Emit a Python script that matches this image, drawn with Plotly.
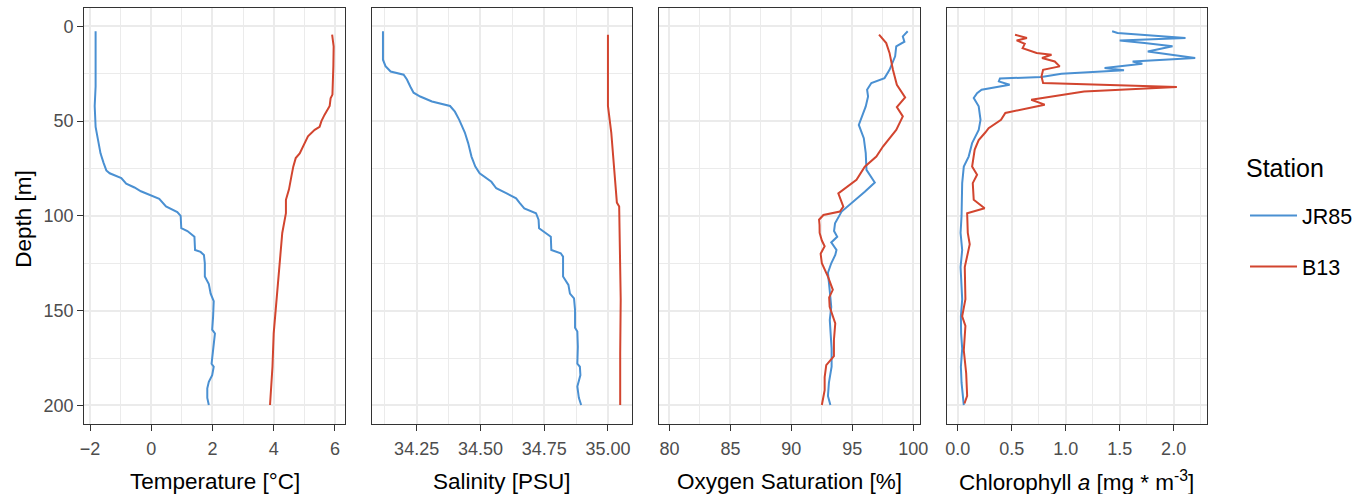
import plotly.graph_objects as go

# ---------------- data ----------------
stations = ["JR85", "B13"]
station_colors = {"JR85": "#4A90D2", "B13": "#D2452F"}

temp_jr85_depth = [2.6, 31.7, 42, 53, 60, 67, 72, 76, 77.5, 80, 83, 85, 87, 89, 91, 95, 98, 100,
                   106.5, 108, 111, 118, 119, 120.6, 125, 132, 136, 141, 145, 153, 160, 162, 167,
                   172.5, 178, 179.6, 184, 187.5, 191, 196, 199.8]
temp_jr85 = [-1.82, -1.82, -1.85, -1.82, -1.74, -1.66, -1.56, -1.47, -1.36, -0.98, -0.82, -0.55,
             -0.34, -0.01, 0.26, 0.48, 0.85, 0.96, 0.98, 1.18, 1.41, 1.43, 1.61, 1.72, 1.75, 1.75,
             1.88, 1.94, 2.04, 2.02, 1.99, 2.08, 2.04, 1.99, 1.97, 2.04, 1.99, 1.88, 1.83, 1.83, 1.88]

temp_b13_depth = [4.4, 10.6, 21, 36, 38, 42, 46.7, 50, 53, 54.6, 58, 61.6, 67, 69.5, 74, 79, 86,
                  91.5, 98.6, 109, 127, 144, 162, 179.6, 199.8]
temp_b13 = [5.91, 5.96, 5.95, 5.92, 5.86, 5.83, 5.66, 5.56, 5.50, 5.34, 5.12, 5.02, 4.85, 4.72,
            4.64, 4.58, 4.50, 4.40, 4.40, 4.28, 4.18, 4.08, 4.00, 3.96, 3.88]

sal_jr85_depth = [2.6, 17.6, 21, 23.8, 25.5, 28, 31.7, 35, 37, 39.6, 42, 45, 49.3, 56, 61.6, 68.7,
                  74, 77.5, 82, 85.4, 88, 90.7, 93, 96, 98.6, 102, 106.5, 111, 118, 119.7, 121.5,
                  132, 136.4, 141, 143.5, 149.6, 159, 161, 169, 178, 179.6, 184, 190, 196, 199.8]
sal_jr85 = [34.118, 34.118, 34.128, 34.148, 34.199, 34.212, 34.225, 34.238, 34.264, 34.31, 34.381,
            34.40, 34.417, 34.439, 34.452, 34.465, 34.48, 34.497, 34.543, 34.562, 34.601, 34.64,
            34.653, 34.672, 34.718, 34.728, 34.73, 34.776, 34.778, 34.815, 34.824, 34.824, 34.845,
            34.851, 34.867, 34.871, 34.871, 34.88, 34.882, 34.88, 34.89, 34.892, 34.88, 34.886, 34.895]

sal_b13_depth = [4.4, 21, 42, 56, 74, 84.5, 93, 95, 118, 144, 172.5, 199.8]
sal_b13 = [35.0, 35.0, 35.0, 35.013, 35.025, 35.032, 35.035, 35.044, 35.048, 35.05, 35.048, 35.048]

oxy_jr85_depth = [2.6, 5.3, 8.1, 10.5, 15.8, 22.9, 27.3, 29.9, 33.4, 37, 42.2, 47, 52, 59, 66.9,
                  75.7, 82.4, 87.2, 92.4, 97.7, 103.9, 108, 111, 114, 118, 120.6, 125, 130, 139,
                  148, 155, 162, 170, 179.6, 188, 195, 199.8]
oxy_jr85 = [99.54, 99.14, 99.27, 98.6, 98.51, 98.05, 97.64, 96.56, 96.21, 96.29, 96.1, 95.8, 95.53,
            95.94, 96.1, 96.16, 96.84, 96.02, 95.07, 94.12, 93.58, 93.5, 93.76, 93.27, 93.7, 93.6,
            93.27, 93.0, 93.14, 93.27, 93.15, 93.2, 93.3, 93.3, 93.08, 93.0, 93.2]

oxy_b13_depth = [4.4, 8.8, 14, 22.9, 30.8, 37.5, 42.6, 47.5, 54.6, 58.1, 63.4, 68.7, 74, 81, 88.1,
                 95.1, 97.7, 99.5, 102, 104.8, 109, 113, 116, 120, 125, 132, 139, 143, 148, 156.7,
                 165.5, 174, 178.7, 185, 192, 199.8]
oxy_b13 = [97.19, 97.78, 98.05, 98.33, 98.65, 99.33, 98.65, 99.14, 98.6, 98.19, 97.51, 96.97,
           96.02, 95.34, 93.85, 94.26, 93.98, 92.63, 92.27, 92.31, 92.32, 92.5, 92.73, 92.4, 92.5,
           93.0, 93.4, 93.1, 93.14, 93.6, 93.49, 93.49, 92.86, 92.73, 92.73, 92.5]

chl_jr85_depth = [2.6, 3.5, 6.1, 7.4, 8.8, 10.5, 13.2, 16.7, 18.5, 19.7, 22, 23.2, 25, 26.7, 27.5,
                  29, 30.8, 33.4, 35.2, 37.8, 42.2, 49.3, 54.6, 61.6, 68.7, 74, 82.7, 91.5, 100,
                  109, 118, 127, 135, 144, 153, 162, 170, 179.6, 188, 195, 199.8]
chl_jr85 = [1.43, 1.48, 2.11, 1.50, 1.73, 1.99, 1.76, 2.2, 1.62, 1.71, 1.36, 1.54, 0.96, 0.775,
            0.39, 0.38, 0.48, 0.22, 0.178, 0.147, 0.193, 0.21, 0.193, 0.132, 0.1, 0.055, 0.04,
            0.04, 0.034, 0.025, 0.04, 0.025, 0.035, 0.04, 0.028, 0.03, 0.04, 0.028, 0.034, 0.045, 0.055]

chl_b13_depth = [4.4, 6.1, 7.4, 9.2, 11.5, 14, 15, 16.7, 18.5, 21.1, 22.9, 26.4, 29.9, 32, 34.3,
                 38.7, 41.3, 45.7, 49.3, 53.7, 56, 60, 65, 74, 78.3, 82.7, 91.5, 96, 98.6, 109,
                 115, 127, 144, 153, 158, 171, 183, 195, 199]
chl_b13 = [0.53, 0.64, 0.545, 0.62, 0.6, 0.73, 0.868, 0.78, 0.898, 0.944, 0.79, 0.775, 0.79, 2.03,
           1.17, 0.68, 0.805, 0.44, 0.4, 0.285, 0.254, 0.193, 0.156, 0.132, 0.178, 0.138, 0.147,
           0.248, 0.086, 0.092, 0.11, 0.064, 0.07, 0.04, 0.07, 0.055, 0.077, 0.086, 0.061]

panel_titles = ["Temperature [°C]", "Salinity [PSU]", "Oxygen Saturation [%]",
                "Chlorophyll <i>a</i> [mg * m<sup>-3</sup>]"]
depth_ticks = [0, 50, 100, 150, 200]

panels = [
    {"JR85": (temp_jr85_depth, temp_jr85), "B13": (temp_b13_depth, temp_b13)},
    {"JR85": (sal_jr85_depth, sal_jr85), "B13": (sal_b13_depth, sal_b13)},
    {"JR85": (oxy_jr85_depth, oxy_jr85), "B13": (oxy_b13_depth, oxy_b13)},
    {"JR85": (chl_jr85_depth, chl_jr85), "B13": (chl_b13_depth, chl_b13)},
]

# ---------------- layout / style ----------------
W, H = 1367, 494
FONT = "Liberation Sans, Arial, Helvetica, sans-serif"
px_left = [81, 371, 661, 951]
px_right = [344, 634, 924, 1214]
y_top, y_bot = 8, 424
x_ranges = [[-2.19, 6.33], [34.074, 35.096], [79.16, 100.54], [-0.104, 2.3125]]
x_dtick = [2, 0.25, 5, 0.5]
x_tick0 = [0, 34.25, 80, 0]
x_fmt = ["", ".2f", "", ".1f"]

GRID = "#EBEBEB"
BORDER = "#333333"
TICK_SIZE = 18
TITLE_SIZE = 22.5

fig = go.Figure()
for i, pdata in enumerate(panels):
    for st in stations:
        d, v = pdata[st]
        fig.add_trace(go.Scatter(
            x=v, y=d, mode="lines", name=st, legendgroup=st,
            showlegend=(i == 0),
            line=dict(color=station_colors[st], width=2),
            xaxis="x" if i == 0 else f"x{i+1}",
            yaxis="y" if i == 0 else f"y{i+1}",
        ))

layout = dict(
    width=W, height=H, margin=dict(l=0, r=0, t=0, b=0),
    paper_bgcolor="white", plot_bgcolor="white",
    font=dict(family=FONT, color="black"),
    showlegend=True,
    legend=dict(
        font=dict(size=21.5, color="black"),
        x=1252 / W, y=1 - 195 / H, xanchor="left", yanchor="top",
        traceorder="grouped", tracegroupgap=20, itemwidth=47,
        bgcolor="rgba(0,0,0,0)",
    ),
)

annotations = []
for i in range(4):
    xn = "xaxis" if i == 0 else f"xaxis{i+1}"
    yn = "yaxis" if i == 0 else f"yaxis{i+1}"
    dom = [px_left[i] / W, px_right[i] / W]
    layout[xn] = dict(
        domain=dom, range=x_ranges[i], anchor="y" if i == 0 else f"y{i+1}",
        tick0=x_tick0[i], dtick=x_dtick[i], tickformat=x_fmt[i],
        showgrid=True, gridcolor=GRID, gridwidth=1.7,
        minor=dict(dtick=x_dtick[i] / 2, tick0=x_tick0[i], showgrid=True,
                   gridcolor=GRID, gridwidth=0.85, ticks=""),
        showline=True, linecolor=BORDER, linewidth=1.3, mirror=True,
        ticks="outside", ticklen=6, tickwidth=1.3, tickcolor=BORDER,
        ticklabelstandoff=2,
        tickfont=dict(size=TICK_SIZE, color="#4D4D4D", family=FONT),
        zeroline=False, fixedrange=True,
    )
    layout[yn] = dict(
        domain=[1 - y_bot / H, 1 - y_top / H], range=[209.8, -9.7],
        anchor="x" if i == 0 else f"x{i+1}",
        tickvals=depth_ticks, ticktext=[str(t) for t in depth_ticks],
        showgrid=True, gridcolor=GRID, gridwidth=1.7,
        minor=dict(tickvals=[25, 75, 125, 175], showgrid=True, gridcolor=GRID,
                   gridwidth=0.85, ticks=""),
        showline=True, linecolor=BORDER, linewidth=1.3, mirror=True,
        ticks="outside" if i == 0 else "", ticklen=6, tickwidth=1.3, tickcolor=BORDER,
        showticklabels=(i == 0),
        tickfont=dict(size=TICK_SIZE, color="#4D4D4D", family=FONT),
        zeroline=False, fixedrange=True,
    )
    annotations.append(dict(
        text=panel_titles[i], xref="paper", yref="paper",
        x=(px_left[i] + px_right[i]) / 2 / W, y=1 - 481 / H,
        xanchor="center", yanchor="middle", showarrow=False,
        font=dict(size=TITLE_SIZE, color="black", family=FONT),
    ))

annotations.append(dict(
    text="Depth [m]", xref="paper", yref="paper", x=19 / W, y=1 - 219 / H,
    xanchor="center", yanchor="middle", textangle=-90, showarrow=False,
    font=dict(size=TITLE_SIZE, color="black", family=FONT),
))
annotations.append(dict(
    text="Station", xref="paper", yref="paper", x=1251 / W, y=1 - 168 / H,
    xanchor="left", yanchor="middle", showarrow=False,
    font=dict(size=25, color="black", family=FONT),
))
layout["annotations"] = annotations

fig.update_layout(**layout)
fig.write_html("out.html")
